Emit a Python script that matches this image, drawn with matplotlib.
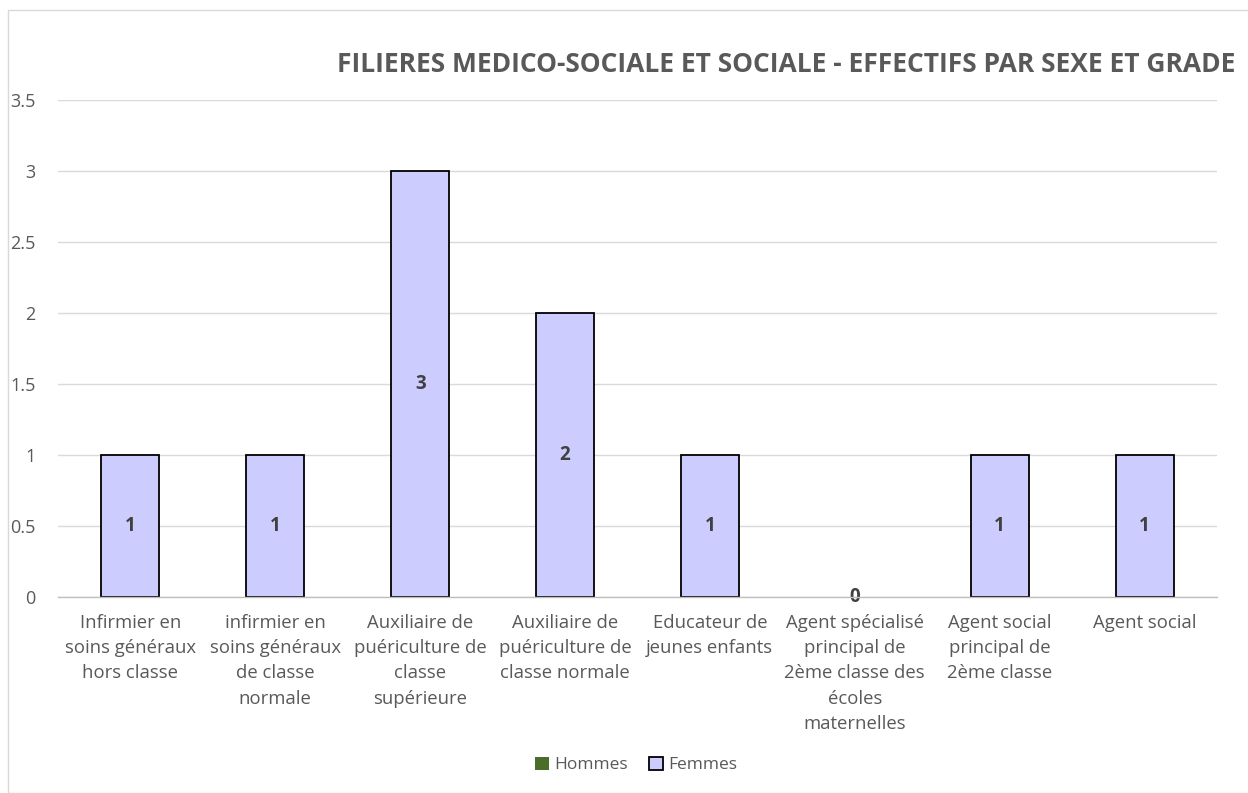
import matplotlib
matplotlib.use("Agg")
import matplotlib.pyplot as plt
from matplotlib.patches import Rectangle
import numpy as np

categories = [
    "Infirmier en\nsoins généraux\nhors classe",
    "infirmier en\nsoins généraux\nde classe\nnormale",
    "Auxiliaire de\npuériculture de\nclasse\nsupérieure",
    "Auxiliaire de\npuériculture de\nclasse normale",
    "Educateur de\njeunes enfants",
    "Agent spécialisé\nprincipal de\n2ème classe des\nécoles\nmaternelles",
    "Agent social\nprincipal de\n2ème classe",
    "Agent social",
]
hommes = [0, 0, 0, 0, 0, 0, 0, 0]
femmes = [1, 1, 3, 2, 1, 0, 1, 1]
yticks = [0, 0.5, 1, 1.5, 2, 2.5, 3, 3.5]
title = "FILIERES MEDICO-SOCIALE ET SOCIALE - EFFECTIFS PAR SEXE ET GRADE"

plt.rcParams['font.family'] = ['Open Sans', 'DejaVu Sans']
gray = '#595959'

fig = plt.figure(figsize=(12.48, 7.93), dpi=100)
W, H = 1248, 793
ax = fig.add_axes([58 / W, 1 - 597 / H, (1217 - 58) / W, (597 - 100) / H])

x = np.arange(len(categories))
w = 0.4
ax.bar(x, hommes, w, color='#4a6e2a', label='Hommes', zorder=3)
edge = ['black' if f > 0 else 'none' for f in femmes]
ax.bar(x, femmes, w, bottom=hommes, color='#ccccff', edgecolor=edge,
       linewidth=1.3, label='Femmes', zorder=3)

for xi, h, f in zip(x, hommes, femmes):
    ax.text(xi, h + f / 2, str(f), ha='center', va='center', fontsize=13.5,
            fontweight='bold', color='#404040', zorder=4)

ax.set_xlim(-0.5, len(categories) - 0.5)
ax.set_ylim(0, 3.5)
ax.set_yticks(yticks)
ax.set_yticklabels([f"{t:g}" for t in yticks])
ax.set_xticks(x)
ax.set_xticklabels(categories, fontsize=13.3, color=gray, linespacing=1.52)
ax.tick_params(axis='y', length=0, labelsize=13, labelcolor=gray, pad=16)
ax.tick_params(axis='x', length=0, pad=12)
ax.grid(axis='y', color='#d9d9d9', linewidth=1, zorder=0)
for s in ['left', 'right', 'top']:
    ax.spines[s].set_visible(False)
ax.spines['bottom'].set_color('#bfbfbf')
ax.spines['bottom'].set_linewidth(1)
ax.spines['bottom'].set_zorder(5)

fig.text(786 / W, 1 - 64 / H, title, ha='center', va='center', fontsize=19,
         fontweight='bold', color=gray)

leg = fig.legend(loc='center', bbox_to_anchor=(636 / W, 1 - 765 / H), ncol=2,
                 frameon=False, fontsize=12.5, handlelength=0.8, handleheight=0.8,
                 handletextpad=0.3, columnspacing=1.2)
for t in leg.get_texts():
    t.set_color(gray)

fig.patches.append(Rectangle((8 / W, 0), 1.0, 1 - 10 / H, transform=fig.transFigure,
                             fill=False, edgecolor='#d9d9d9', linewidth=1))

fig.savefig('out.png', dpi=100)
